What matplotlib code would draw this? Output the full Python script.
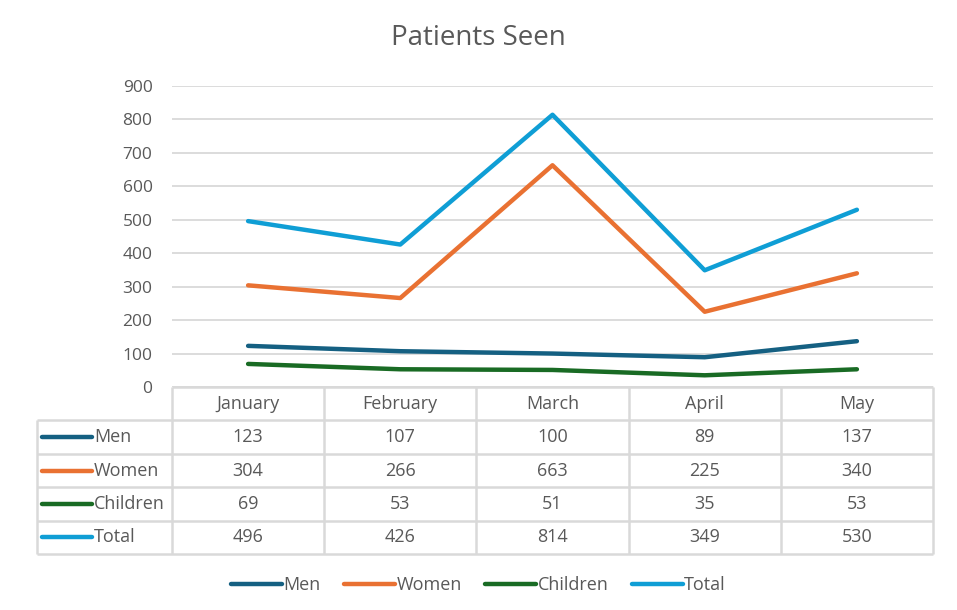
import matplotlib
matplotlib.use("Agg")
import matplotlib.pyplot as plt
from matplotlib.lines import Line2D

months = ["January", "February", "March", "April", "May"]
men = [123, 107, 100, 89, 137]
women = [304, 266, 663, 225, 340]
children = [69, 53, 51, 35, 53]
total = [496, 426, 814, 349, 530]
series_names = ["Men", "Women", "Children", "Total"]
yticks = [0, 100, 200, 300, 400, 500, 600, 700, 800, 900]

colors = ["#156082", "#E97132", "#196B24", "#0F9ED5"]
series = [men, women, children, total]
txt = "#595959"
grid = "#D9D9D9"
font = "Open Sans"
plt.rcParams['font.family'] = [font, 'DejaVu Sans']
FS = 13

W, H = 957, 610
fig = plt.figure(figsize=(W / 100, H / 100), dpi=100)

def fx(px):
    return px / W

def fy(py):
    return 1 - py / H

L, R, T, B = 172, 933, 86, 387
ax = fig.add_axes([fx(L), fy(B), fx(R - L), (B - T) / H])
x = list(range(len(months)))
for s, c, n in zip(series, colors, series_names):
    ax.plot(x, s, color=c, lw=3.2, label=n, solid_capstyle='round', solid_joinstyle='round')
ax.set_xlim(-0.5, len(months) - 0.5)
ax.set_ylim(0, 900)
ax.set_yticks(yticks)
ax.set_yticklabels([str(v) for v in yticks], color=txt, fontsize=12.5)
ax.tick_params(axis='y', length=0, pad=14)
ax.set_xticks([])
ax.grid(axis='y', color=grid, lw=1.3)
ax.set_axisbelow(True)
for sp in ax.spines.values():
    sp.set_visible(False)

fig.text(0.5, fy(38), "Patients Seen", ha='center', va='center', fontsize=20, color=txt)

# data table
TL = 37
TB = 554
unit = (R - L) / len(months)
left_units = (L - TL) / unit
tax = fig.add_axes([fx(TL), fy(TB), fx(R - TL), (TB - B) / H])
tax.set_xlim(-0.5 - left_units, len(months) - 0.5)
nrows = len(series_names) + 1
tax.set_ylim(nrows, 0)
tax.axis('off')
bl = dict(color=grid, lw=1.8, solid_capstyle='butt', clip_on=False)
xl = -0.5 - left_units
xr = len(months) - 0.5
tax.plot([-0.5, xr], [0.0, 0.0], **bl)
for r in range(1, nrows + 1):
    tax.plot([xl, xr], [r, r], **bl)
tax.plot([xl, xl], [1, nrows], **bl)
for i in range(len(months) + 1):
    tax.plot([i - 0.5, i - 0.5], [0, nrows], **bl)
for i, m in enumerate(months):
    tax.text(i, 0.5, m, ha='center', va='center', color=txt, fontsize=FS)
hl = 50 / unit
for r, (n, s, c) in enumerate(zip(series_names, series, colors), start=1):
    x0 = xl + 5 / unit
    tax.plot([x0, x0 + hl], [r + 0.5, r + 0.5], color=c, lw=3.2, solid_capstyle='round', clip_on=False)
    tax.text(x0 + hl + 2 / unit, r + 0.5, n, ha='left', va='center', color=txt, fontsize=FS)
    for i, v in enumerate(s):
        tax.text(i, r + 0.5, str(v), ha='center', va='center', color=txt, fontsize=FS)

handles = [Line2D([0], [0], color=c, lw=3.2, solid_capstyle='round') for c in colors]
fig.legend(handles, series_names, loc='center', bbox_to_anchor=(0.5, fy(585)), ncol=4,
           frameon=False, handlelength=2.8, handletextpad=0.1, columnspacing=1.3,
           fontsize=FS, labelcolor=txt)

fig.savefig("out.png", dpi=100, facecolor='white')
